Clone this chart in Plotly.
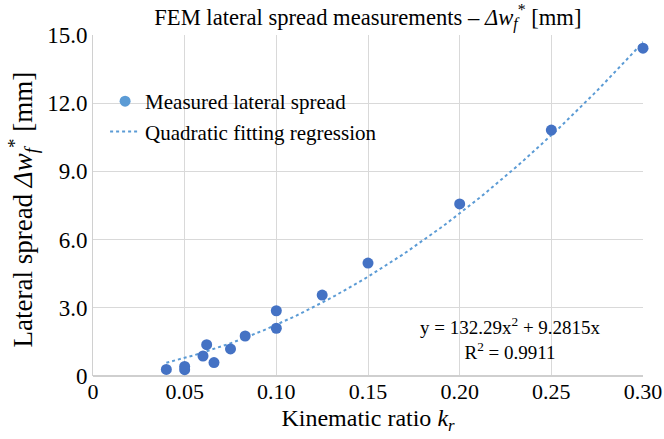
import plotly.graph_objects as go
import numpy as np

kr = [0.040, 0.050, 0.050, 0.060, 0.062, 0.066, 0.075, 0.083, 0.100, 0.100, 0.125, 0.150, 0.200, 0.250, 0.300]
dw = [0.29, 0.28, 0.42, 0.88, 1.38, 0.59, 1.19, 1.76, 2.10, 2.87, 3.56, 4.97, 7.57, 10.82, 14.42]

# Quadratic trendline coefficients printed on the chart
coef_a = 132.29
coef_b = 9.2815
r2 = 0.9911

x_ticks = [0, 0.05, 0.10, 0.15, 0.20, 0.25, 0.30]
x_ticklabels = ["0", "0.05", "0.10", "0.15", "0.20", "0.25", "0.30"]
y_ticks = [0, 3, 6, 9, 12, 15]
y_ticklabels = ["0", "3.0", "6.0", "9.0", "12.0", "15.0"]

fit_x = np.linspace(min(kr), max(kr), 100)
fit_y = coef_a * fit_x**2 + coef_b * fit_x

FONT = "Liberation Serif, Times New Roman, serif"

fig = go.Figure()
fig.add_trace(go.Scatter(
    x=fit_x, y=fit_y, mode="lines",
    line=dict(color="#5B9BD5", width=2, dash="dot"),
    showlegend=False, hoverinfo="skip", cliponaxis=False))
fig.add_trace(go.Scatter(
    x=kr, y=dw, mode="markers",
    marker=dict(color="#4472C4", size=11),
    showlegend=False, cliponaxis=False))
# legend entries
fig.add_trace(go.Scatter(
    x=[None], y=[None], mode="markers", name="Measured lateral spread",
    marker=dict(color="#5B9BD5", size=11)))
fig.add_trace(go.Scatter(
    x=[None], y=[None], mode="lines", name="Quadratic fitting regression",
    line=dict(color="#5B9BD5", width=2, dash="dot")))

fig.add_annotation(
    x=0.2275, y=1.65, xref="x", yref="y",
    text=f"y = {coef_a}x<sup>2</sup> + {coef_b}x<br>R<sup>2</sup> = {r2}",
    showarrow=False, align="center",
    font=dict(family=FONT, size=19, color="#000000"))

# y-axis title as rotated annotation
fig.add_annotation(
    x=-0.128, y=0.487, xref="paper", yref="paper",
    text="Lateral spread <i>Δw<sub>f</sub></i><sup>*</sup> [mm]",
    textangle=-90, showarrow=False, xanchor="center", yanchor="middle",
    font=dict(family=FONT, size=27, color="#000000"))

fig.update_layout(
    width=664, height=439,
    margin=dict(l=93, r=21, t=35, b=63),
    paper_bgcolor="white", plot_bgcolor="white",
    font=dict(family=FONT, color="#000000"),
    title=dict(
        text="FEM lateral spread measurements – <i>Δw<sub>f</sub></i><sup>*</sup> [mm]",
        x=0.554, xanchor="center", y=0.962, yanchor="middle",
        font=dict(family=FONT, size=22.6, color="#000000")),
    legend=dict(
        x=0.022, y=0.865, xanchor="left", yanchor="top",
        bgcolor="rgba(0,0,0,0)",
        font=dict(family=FONT, size=21, color="#000000")),
)
fig.update_xaxes(
    range=[0, 0.30], tickvals=x_ticks, ticktext=x_ticklabels,
    showgrid=True, gridcolor="#d9d9d9", gridwidth=1,
    showline=False, zeroline=False, ticks="", automargin=False,
    tickfont=dict(family=FONT, size=22, color="#000000"),
    title=dict(text="Kinematic ratio <i>k<sub>r</sub></i>", standoff=6,
               font=dict(family=FONT, size=24, color="#000000")))
fig.update_yaxes(
    range=[0, 15], tickvals=y_ticks, ticktext=y_ticklabels,
    showgrid=True, gridcolor="#d9d9d9", gridwidth=1,
    showline=True, linecolor="#d0d0d0", linewidth=1,
    zeroline=True, zerolinecolor="#cfcfcf", zerolinewidth=1.5, ticks="",
    automargin=False,
    tickfont=dict(family=FONT, size=23, color="#000000"))

fig.write_html("out.html")
